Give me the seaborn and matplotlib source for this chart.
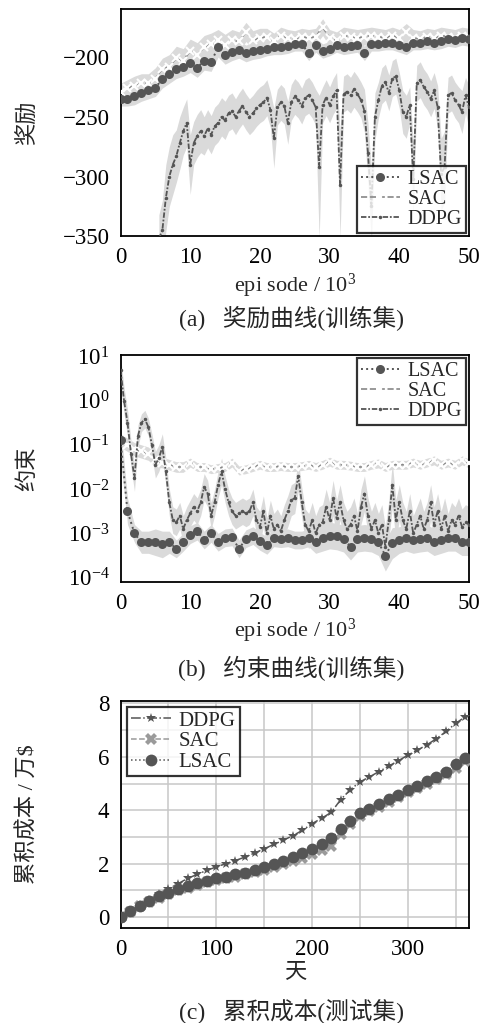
import numpy as np
import pandas as pd
import matplotlib
matplotlib.use("Agg")
import matplotlib.pyplot as plt
from matplotlib.ticker import LogLocator, FixedLocator, NullFormatter
import seaborn as sns

# ---------------- data ----------------
# (a) reward curves, episode in thousands
reward_ep = list(range(0, 51))
reward_lsac = [-235, -235, -233, -230, -228, -226, -218, -214, -210, -208,
               -205, -209, -203, -204, -192, -198, -196, -194, -197, -195,
               -194, -193, -192, -192, -191, -189, -189, -197, -190, -195,
               -193, -190, -192, -191, -190, -197, -189, -189, -188, -188,
               -190, -192, -188, -188, -187, -188, -187, -185, -186, -184, -185]
reward_sac = [-229, -226, -224, -222, -222, -218, -210, -208, -201, -203,
              -195, -198, -192, -189, -186, -190, -186, -187, -179, -186,
              -184, -183, -187, -182, -184, -185, -183, -184, -183, -175,
              -184, -186, -182, -183, -184, -183, -182, -183, -184, -182,
              -184, -179, -184, -185, -183, -184, -182, -183, -184, -182, -183]
reward_lsac_spread = [6, 6, 7, 7, 7, 7, 8, 8, 8, 8, 8, 8, 8, 8, 8, 8, 7, 7, 7, 7,
                      7, 6, 6, 6, 6, 6, 6, 6, 6, 6, 6, 6, 6, 6, 6, 6, 6, 6, 6, 6,
                      6, 6, 6, 6, 6, 6, 6, 6, 6, 6, 6]
reward_sac_spread = [7, 7, 8, 8, 8, 9, 9, 10, 10, 10, 10, 10, 10, 9, 9, 9, 9, 8, 8, 8,
                     8, 7, 7, 7, 7, 7, 7, 7, 7, 7, 7, 7, 7, 7, 7, 7, 7, 7, 7, 7,
                     7, 7, 7, 7, 7, 7, 7, 7, 7, 7, 7]

ddpg_ep = [5.5, 6.0, 6.5, 7.0, 7.5, 8.0, 8.5, 9.0, 9.5, 10.0,
           10.5, 11.0, 11.5, 12.0, 12.5, 13.0, 13.5, 14.0, 14.5, 15.0,
           15.5, 16.0, 16.5, 17.0, 17.5, 18.0, 18.5, 19.0, 19.5, 20.0,
           20.5, 21.0, 21.5, 22.0, 22.5, 23.0, 23.5, 24.0, 24.5, 25.0,
           25.5, 26.0, 26.5, 27.0, 27.5, 28.0, 28.5, 29.0, 29.5, 30.0,
           30.5, 31.0, 31.5, 32.0, 32.5, 33.0, 33.5, 34.0, 34.5, 35.0,
           35.5, 36.0, 36.5, 37.0, 37.5, 38.0, 38.5, 39.0, 39.5, 40.0,
           40.5, 41.0, 41.5, 42.0, 42.5, 43.0, 43.5, 44.0, 44.5, 45.0,
           45.5, 46.0, 46.5, 47.0, 47.5, 48.0, 48.5, 49.0, 49.5, 50.0]
reward_ddpg = [-352, -345, -318, -300, -290, -283, -272, -262, -255, -290,
               -272, -266, -262, -266, -260, -265, -258, -255, -250, -253,
               -247, -245, -250, -245, -241, -246, -250, -247, -243, -240,
               -238, -234, -244, -268, -242, -238, -241, -255, -238, -233,
               -236, -241, -234, -232, -236, -242, -292, -240, -234, -240,
               -233, -228, -307, -231, -229, -232, -227, -231, -236, -245,
               -280, -325, -250, -236, -224, -221, -230, -218, -216, -228,
               -246, -250, -240, -302, -222, -219, -225, -229, -235, -228,
               -242, -298, -292, -232, -230, -236, -240, -246, -232, -242]
reward_ddpg_spread = [20, 25, 28, 25, 25, 22, 22, 20, 20, 25,
                      18, 18, 18, 16, 16, 16, 16, 16, 16, 16,
                      15, 15, 15, 15, 15, 15, 15, 15, 15, 15,
                      15, 15, 15, 25, 15, 15, 15, 18, 15, 15,
                      15, 15, 15, 15, 15, 15, 60, 15, 15, 15,
                      15, 15, 45, 15, 15, 15, 15, 15, 15, 18,
                      25, 30, 20, 15, 15, 15, 15, 15, 15, 15,
                      18, 18, 15, 30, 15, 15, 15, 15, 15, 15,
                      18, 30, 30, 15, 15, 15, 15, 18, 15, 18]

# (b) constraint curves, log10 of the constraint violation
cons_ep = list(range(0, 51))
cons_lsac_log = [-0.9, -2.5, -3.0, -3.2, -3.2, -3.2, -3.25, -3.2, -3.35, -3.2,
                 -3.03, -2.95, -3.15, -3.0, -3.2, -3.1, -3.08, -3.35, -3.12, -3.05,
                 -3.18, -3.27, -3.1, -3.12, -3.1, -3.15, -3.15, -3.1, -3.2, -3.1,
                 -3.05, -3.07, -3.12, -3.3, -3.12, -3.1, -3.12, -3.2, -3.5, -3.22,
                 -3.15, -3.1, -3.15, -3.12, -3.1, -3.2, -3.15, -3.1, -3.1, -3.2, -3.2]
cons_sac_log = [-0.9, -1.0, -1.1, -1.15, -1.2, -1.35, -1.4, -1.45, -1.5, -1.5,
                -1.4, -1.5, -1.5, -1.55, -1.52, -1.5, -1.4, -1.58, -1.55, -1.5,
                -1.45, -1.5, -1.5, -1.48, -1.5, -1.5, -1.48, -1.45, -1.5, -1.45,
                -1.38, -1.45, -1.45, -1.47, -1.5, -1.5, -1.45, -1.42, -1.5, -1.45,
                -1.45, -1.45, -1.4, -1.45, -1.4, -1.35, -1.45, -1.4, -1.45, -1.35, -1.42]
cons_lsac_spread = [0.4, 0.3, 0.2, 0.25, 0.25, 0.3, 0.3, 0.25, 0.2, 0.2,
                    0.2, 0.2, 0.2, 0.2, 0.2, 0.2, 0.2, 0.2, 0.2, 0.2,
                    0.2, 0.2, 0.2, 0.2, 0.2, 0.2, 0.2, 0.2, 0.25, 0.3,
                    0.3, 0.3, 0.3, 0.3, 0.3, 0.3, 0.3, 0.3, 0.35, 0.35,
                    0.3, 0.3, 0.3, 0.3, 0.3, 0.3, 0.3, 0.3, 0.3, 0.3, 0.3]
cons_sac_spread = [0.15, 0.15, 0.15, 0.15, 0.15, 0.15, 0.12, 0.12, 0.12, 0.12,
                   0.1, 0.1, 0.1, 0.1, 0.1, 0.1, 0.1, 0.1, 0.1, 0.1,
                   0.1, 0.1, 0.1, 0.1, 0.1, 0.1, 0.1, 0.1, 0.1, 0.1,
                   0.1, 0.1, 0.1, 0.1, 0.1, 0.1, 0.1, 0.1, 0.1, 0.1,
                   0.1, 0.1, 0.1, 0.1, 0.1, 0.1, 0.1, 0.1, 0.1, 0.1, 0.1]
cons_ddpg_ep = [i * 0.5 for i in range(101)]
cons_ddpg_log = [0.7, 0.0, -0.5, -1.2, -1.75, -0.8, -0.5, -0.42, -0.6, -1.0,
                 -1.45, -1.3, -1.05, -1.6, -2.3, -2.7, -2.75, -2.6, -2.9, -2.7,
                 -2.55, -2.4, -2.5, -2.3, -1.95, -2.1, -2.6, -2.3, -1.9, -1.6,
                 -2.0, -2.3, -2.5, -2.6, -2.55, -2.5, -2.55, -2.5, -2.3, -2.7,
                 -2.85, -2.5, -3.0, -2.6, -2.9, -2.8, -2.95, -2.7, -2.5, -2.25,
                 -2.2, -1.7, -2.3, -2.8, -2.95, -2.7, -3.0, -2.8, -2.75, -2.4,
                 -2.7, -2.2, -2.65, -2.3, -2.7, -2.9, -2.8, -2.6, -2.95, -2.4,
                 -2.1, -2.6, -2.9, -2.7, -3.0, -2.8, -3.3, -2.7, -1.9, -2.7,
                 -2.3, -2.7, -2.9, -2.5, -3.0, -2.8, -2.6, -2.9, -2.7, -2.3,
                 -2.8, -2.5, -2.9, -2.6, -2.95, -2.7, -2.8, -2.6, -2.85, -2.75,
                 -2.8]
cons_ddpg_spread = [0.3, 0.3, 0.3, 0.3, 0.3, 0.25, 0.2, 0.2, 0.2, 0.25,
                    0.3, 0.3, 0.3, 0.3, 0.3, 0.3, 0.3, 0.3, 0.3, 0.3,
                    0.3, 0.3, 0.3, 0.3, 0.3, 0.3, 0.3, 0.3, 0.3, 0.3,
                    0.3, 0.3, 0.3, 0.3, 0.3, 0.3, 0.3, 0.3, 0.3, 0.3,
                    0.35, 0.35, 0.35, 0.35, 0.35, 0.35, 0.35, 0.35, 0.35, 0.35,
                    0.35, 0.35, 0.35, 0.35, 0.4, 0.4, 0.4, 0.4, 0.4, 0.4,
                    0.4, 0.4, 0.4, 0.4, 0.4, 0.4, 0.4, 0.4, 0.4, 0.4,
                    0.4, 0.4, 0.4, 0.4, 0.45, 0.45, 0.45, 0.45, 0.5, 0.45,
                    0.4, 0.4, 0.4, 0.4, 0.4, 0.4, 0.4, 0.4, 0.4, 0.4,
                    0.4, 0.4, 0.4, 0.4, 0.4, 0.4, 0.4, 0.4, 0.4, 0.4,
                    0.4]

# (c) cumulative cost on the test set, in 10^4 $
days = list(range(0, 361, 10))
cost_ddpg = [0.0, 0.22, 0.45, 0.66, 0.86, 1.06, 1.25, 1.45, 1.6, 1.75,
             1.88, 2.0, 2.12, 2.25, 2.4, 2.56, 2.72, 2.88, 3.05, 3.25,
             3.5, 3.7, 3.92, 4.4, 4.77, 5.06, 5.25, 5.45, 5.65, 5.85,
             6.06, 6.25, 6.45, 6.68, 6.95, 7.25, 7.5]
cost_sac = [0.0, 0.2, 0.4, 0.57, 0.73, 0.87, 1.0, 1.1, 1.2, 1.3,
            1.38, 1.45, 1.52, 1.6, 1.68, 1.77, 1.88, 1.98, 2.1, 2.22,
            2.35, 2.5, 2.65, 3.1, 3.5, 3.8, 3.97, 4.13, 4.32, 4.5,
            4.67, 4.83, 5.0, 5.17, 5.35, 5.6, 5.85]
cost_lsac = [0.0, 0.22, 0.42, 0.6, 0.78, 0.92, 1.05, 1.17, 1.28, 1.37,
             1.45, 1.52, 1.6, 1.67, 1.77, 1.88, 2.0, 2.12, 2.25, 2.4,
             2.57, 2.75, 2.95, 3.3, 3.6, 3.9, 4.05, 4.22, 4.42, 4.58,
             4.75, 4.92, 5.1, 5.25, 5.45, 5.72, 5.95]

# ---------------- style ----------------
sns.set_theme(style="white")
plt.rcParams["font.family"] = ["Liberation Serif", "Noto Sans CJK SC"]
plt.rcParams["mathtext.fontset"] = "custom"
plt.rcParams["mathtext.rm"] = "Liberation Serif"
plt.rcParams["mathtext.it"] = "Liberation Serif:italic"
plt.rcParams["axes.unicode_minus"] = True

DARK = "#555555"
MID = "#888888"
BAND = "#dadada"
TICK_FS = 16.5
LAB_FS = 16
CAP_FS = 17

fig = plt.figure(figsize=(4.86, 10.23), dpi=100)
L, W = 0.248, 0.717
ax_a = fig.add_axes([L, 0.769, W, 0.222])
ax_b = fig.add_axes([L, 0.431, W, 0.222])
ax_c = fig.add_axes([L, 0.093, W, 0.222])


def style_axes(ax):
    for s in ax.spines.values():
        s.set_color("black")
        s.set_linewidth(1.3)
    ax.tick_params(axis="both", which="both", direction="in", colors="black",
                   labelsize=TICK_FS, length=4, width=1.0, pad=8)
    ax.tick_params(axis="both", which="minor", length=2)


def legend(ax, loc, fs=14.5, pad=0.15):
    leg = ax.legend(loc=loc, fontsize=fs, frameon=True, fancybox=False,
                    handlelength=1.9, handletextpad=0.4, borderpad=0.2,
                    labelspacing=0.05, borderaxespad=pad)
    leg.get_frame().set_edgecolor("black")
    leg.get_frame().set_linewidth(1.6)
    return leg


DDPG_LS = (0, (3, 1, 1, 1))
XLAB_Y = -0.155

# ---------------- (a) reward ----------------
ra = np.array(reward_ep, dtype=float)
rd = np.array(ddpg_ep, dtype=float)
ax_a.fill_between(rd, np.array(reward_ddpg) - np.array(reward_ddpg_spread),
                  np.array(reward_ddpg) + np.array(reward_ddpg_spread),
                  color=BAND, lw=0, zorder=1)
ax_a.fill_between(ra, np.array(reward_sac) - np.array(reward_sac_spread),
                  np.array(reward_sac) + np.array(reward_sac_spread),
                  color=BAND, lw=0, zorder=1)
ax_a.fill_between(ra, np.array(reward_lsac) - np.array(reward_lsac_spread),
                  np.array(reward_lsac) + np.array(reward_lsac_spread),
                  color=BAND, lw=0, zorder=1)
sns.lineplot(x=ra, y=reward_lsac, ax=ax_a, color=DARK, linestyle=":", lw=1.4,
             marker="o", markersize=6.5, markeredgewidth=0, label="LSAC", zorder=4)
sns.lineplot(x=ra, y=reward_sac, ax=ax_a, color=MID, linestyle="--", lw=1.2,
             marker="x", markersize=6, markeredgewidth=1.5, label="SAC", zorder=3)
sns.lineplot(x=rd, y=reward_ddpg, ax=ax_a, color=DARK, linestyle=DDPG_LS, lw=1.3,
             marker=".", markersize=5, markeredgewidth=0, label="DDPG", zorder=3)
ax_a.set_xlim(0, 50)
ax_a.set_ylim(-350, -160)
ax_a.set_yticks([-350, -300, -250, -200])
ax_a.set_xticks([0, 10, 20, 30, 40, 50])
style_axes(ax_a)
ax_a.set_xlabel("epi sode / 10$^3$", fontsize=LAB_FS)
ax_a.set_ylabel("奖励", fontsize=LAB_FS)
ax_a.yaxis.set_label_coords(-0.235, 0.5)
ax_a.xaxis.set_label_coords(0.5, XLAB_Y)
legend(ax_a, "lower right")

# ---------------- (b) constraint ----------------
cb = np.array(cons_ep, dtype=float)
cbd = np.array(cons_ddpg_ep, dtype=float)
for xs, mean, sp in [(cbd, cons_ddpg_log, cons_ddpg_spread),
                     (cb, cons_sac_log, cons_sac_spread),
                     (cb, cons_lsac_log, cons_lsac_spread)]:
    m = np.array(mean)
    s = np.array(sp)
    ax_b.fill_between(xs, 10 ** (m - s), 10 ** (m + s), color=BAND, lw=0, zorder=1)
sns.lineplot(x=cb, y=10 ** np.array(cons_lsac_log), ax=ax_b, color=DARK,
             linestyle=":", lw=1.4, marker="o", markersize=6.5, markeredgewidth=0,
             label="LSAC", zorder=4)
sns.lineplot(x=cb, y=10 ** np.array(cons_sac_log), ax=ax_b, color=MID,
             linestyle="--", lw=1.2, marker="x", markersize=6, markeredgewidth=1.5,
             label="SAC", zorder=3)
sns.lineplot(x=cbd, y=10 ** np.array(cons_ddpg_log), ax=ax_b, color=DARK,
             linestyle=DDPG_LS, lw=1.3, marker=".", markersize=5, markeredgewidth=0,
             label="DDPG", zorder=3)
ax_b.set_yscale("log")
ax_b.set_xlim(0, 50)
ax_b.set_ylim(10 ** -4.1, 10 ** 1.03)
ax_b.yaxis.set_major_locator(FixedLocator([1e-4, 1e-3, 1e-2, 1e-1, 1e0, 1e1]))
ax_b.set_yticklabels(["$10^{-4}$", "$10^{-3}$", "$10^{-2}$", "$10^{-1}$",
                      "$10^{0}$", "$10^{1}$"])
ax_b.yaxis.set_minor_formatter(NullFormatter())
ax_b.yaxis.set_minor_locator(LogLocator(base=10, subs=[], numticks=10))
ax_b.set_xticks([0, 10, 20, 30, 40, 50])
style_axes(ax_b)
ax_b.set_xlabel("epi sode / 10$^3$", fontsize=LAB_FS)
ax_b.set_ylabel("约束", fontsize=LAB_FS)
ax_b.yaxis.set_label_coords(-0.235, 0.5)
ax_b.xaxis.set_label_coords(0.5, XLAB_Y)
legend(ax_b, "upper right")

# ---------------- (c) cumulative cost ----------------
dc = np.array(days, dtype=float)
ax_c.set_axisbelow(True)
sns.lineplot(x=dc, y=cost_ddpg, ax=ax_c, color=DARK, linestyle="-.", lw=1.1,
             marker="*", markersize=7.5, markeredgewidth=0, label="DDPG", zorder=3)
sns.lineplot(x=dc, y=cost_sac, ax=ax_c, color="#9a9a9a", linestyle="--", lw=1.1,
             marker="X", markersize=8.5, markeredgewidth=0, label="SAC", zorder=3)
sns.lineplot(x=dc, y=cost_lsac, ax=ax_c, color=DARK, linestyle=":", lw=1.1,
             marker="o", markersize=8.5, markeredgewidth=0, label="LSAC", zorder=4)
ax_c.set_xlim(0, 364)
ax_c.set_ylim(-0.4, 8.1)
ax_c.set_xticks([0, 100, 200, 300])
ax_c.set_xticks([50, 150, 250, 350], minor=True)
ax_c.set_yticks([0, 2, 4, 6, 8])
ax_c.set_yticks([1, 3, 5, 7], minor=True)
ax_c.grid(True, which="both", color="#c8c8c8", lw=1.1)
style_axes(ax_c)
ax_c.tick_params(axis="both", which="minor", length=4)
ax_c.set_xlabel("天", fontsize=LAB_FS)
ax_c.set_ylabel("累积成本 / 万\\$", fontsize=LAB_FS)
ax_c.yaxis.set_label_coords(-0.235, 0.5)
ax_c.xaxis.set_label_coords(0.5, -0.16)
legend(ax_c, "upper left", fs=15, pad=0.3)

# ---------------- captions ----------------
CAP_X = 0.60
fig.text(CAP_X, 1 - 319 / 1023, "(a)   奖励曲线(训练集)", ha="center",
         va="center", fontsize=CAP_FS)
fig.text(CAP_X, 1 - 668 / 1023, "(b)   约束曲线(训练集)", ha="center",
         va="center", fontsize=CAP_FS)
fig.text(CAP_X, 1 - 1012 / 1023, "(c)   累积成本(测试集)", ha="center",
         va="center", fontsize=CAP_FS)

fig.savefig("out.png", dpi=100)
